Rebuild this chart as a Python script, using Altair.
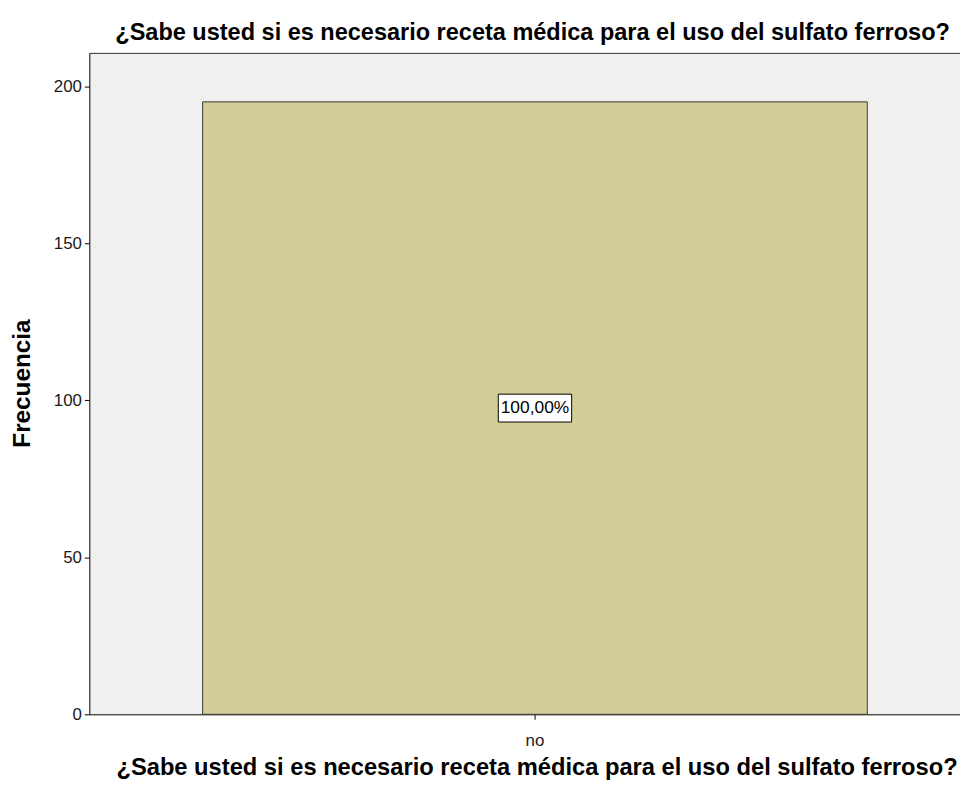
import altair as alt
import pandas as pd

# ---- data ----
categories = ["no"]
frequencies = [195]
total = sum(frequencies)
percent_labels = [f"{v / total * 100:.2f}%".replace(".", ",") for v in frequencies]
y_ticks = [0, 50, 100, 150, 200]

TITLE = "¿Sabe usted si es necesario receta médica para el uso del sulfato ferroso?"
Y_TITLE = "Frecuencia"

df = pd.DataFrame({"categoria": categories, "frecuencia": frequencies, "etiqueta": percent_labels})
df["mitad"] = df["frecuencia"] / 2

FONT = "Liberation Sans"

x_scale = alt.Scale(paddingInner=0, paddingOuter=0.155, align=0.55)
y_scale = alt.Scale(domain=[0, 210.6], nice=False)

y_axis = alt.Axis(
    values=y_ticks, grid=False, tickSize=5, tickColor="black", domainColor="black",
    labelFont=FONT, labelFontSize=17, labelColor="#1a1a1a", labelPadding=3,
    title=Y_TITLE, titleFont=FONT, titleFontSize=24.5, titleFontWeight="bold",
    titleColor="black", titleAngle=270, titleX=-60, titleY=333,
    titleAlign="center", titleBaseline="alphabetic",
)

bars = alt.Chart(df).mark_bar(color="#D3CE98", stroke="#3a3a3a", strokeWidth=1).encode(
    x=alt.X("categoria:N", scale=x_scale, axis=alt.Axis(
        orient="bottom", labelAngle=0, tickSize=5, tickColor="black", domainColor="black",
        labelFont=FONT, labelFontSize=17, labelColor="#1a1a1a", labelPadding=13,
        title=TITLE, titleFont=FONT, titleFontSize=23.9, titleFontWeight="bold",
        titleColor="black", titleX=451, titleY=61, titleAlign="center",
        titleBaseline="alphabetic",
    )),
    y=alt.Y("frecuencia:Q", scale=y_scale, axis=y_axis),
)

box = alt.Chart(df).mark_point(
    shape="M-1,-0.38H1V0.38H-1Z", size=5476, filled=True, fill="white",
    stroke="black", strokeWidth=1, opacity=1,
).encode(
    x=alt.X("categoria:N", scale=x_scale, axis=alt.Axis(
        orient="top", labels=False, ticks=False, title=None,
        domainColor="#333333", domainWidth=1, minExtent=0, maxExtent=0,
    )),
    y=alt.Y("mitad:Q", scale=y_scale, axis=y_axis),
)

text = alt.Chart(df).mark_text(font=FONT, fontSize=17.5, color="black", baseline="middle").encode(
    x=alt.X("categoria:N", scale=x_scale, axis=None),
    y=alt.Y("mitad:Q", scale=y_scale, axis=y_axis),
    text="etiqueta:N",
)

chart = alt.layer(bars, box, text).resolve_axis(x="independent").properties(
    width=878, height=667,
    title=alt.TitleParams(TITLE, font=FONT, fontSize=23.7, fontWeight="bold", color="black",
                          anchor="middle", offset=-11, baseline="alphabetic", dx=8),
    autosize=alt.AutoSizeParams(type="none"),
    padding={"left": 82, "top": 42, "right": 0, "bottom": 63},
    view=alt.ViewBackground(fill="#F0F0F0", stroke=None),
).configure(background="white")

chart.save("out.html", embed_options={"renderer": "svg", "actions": False})
